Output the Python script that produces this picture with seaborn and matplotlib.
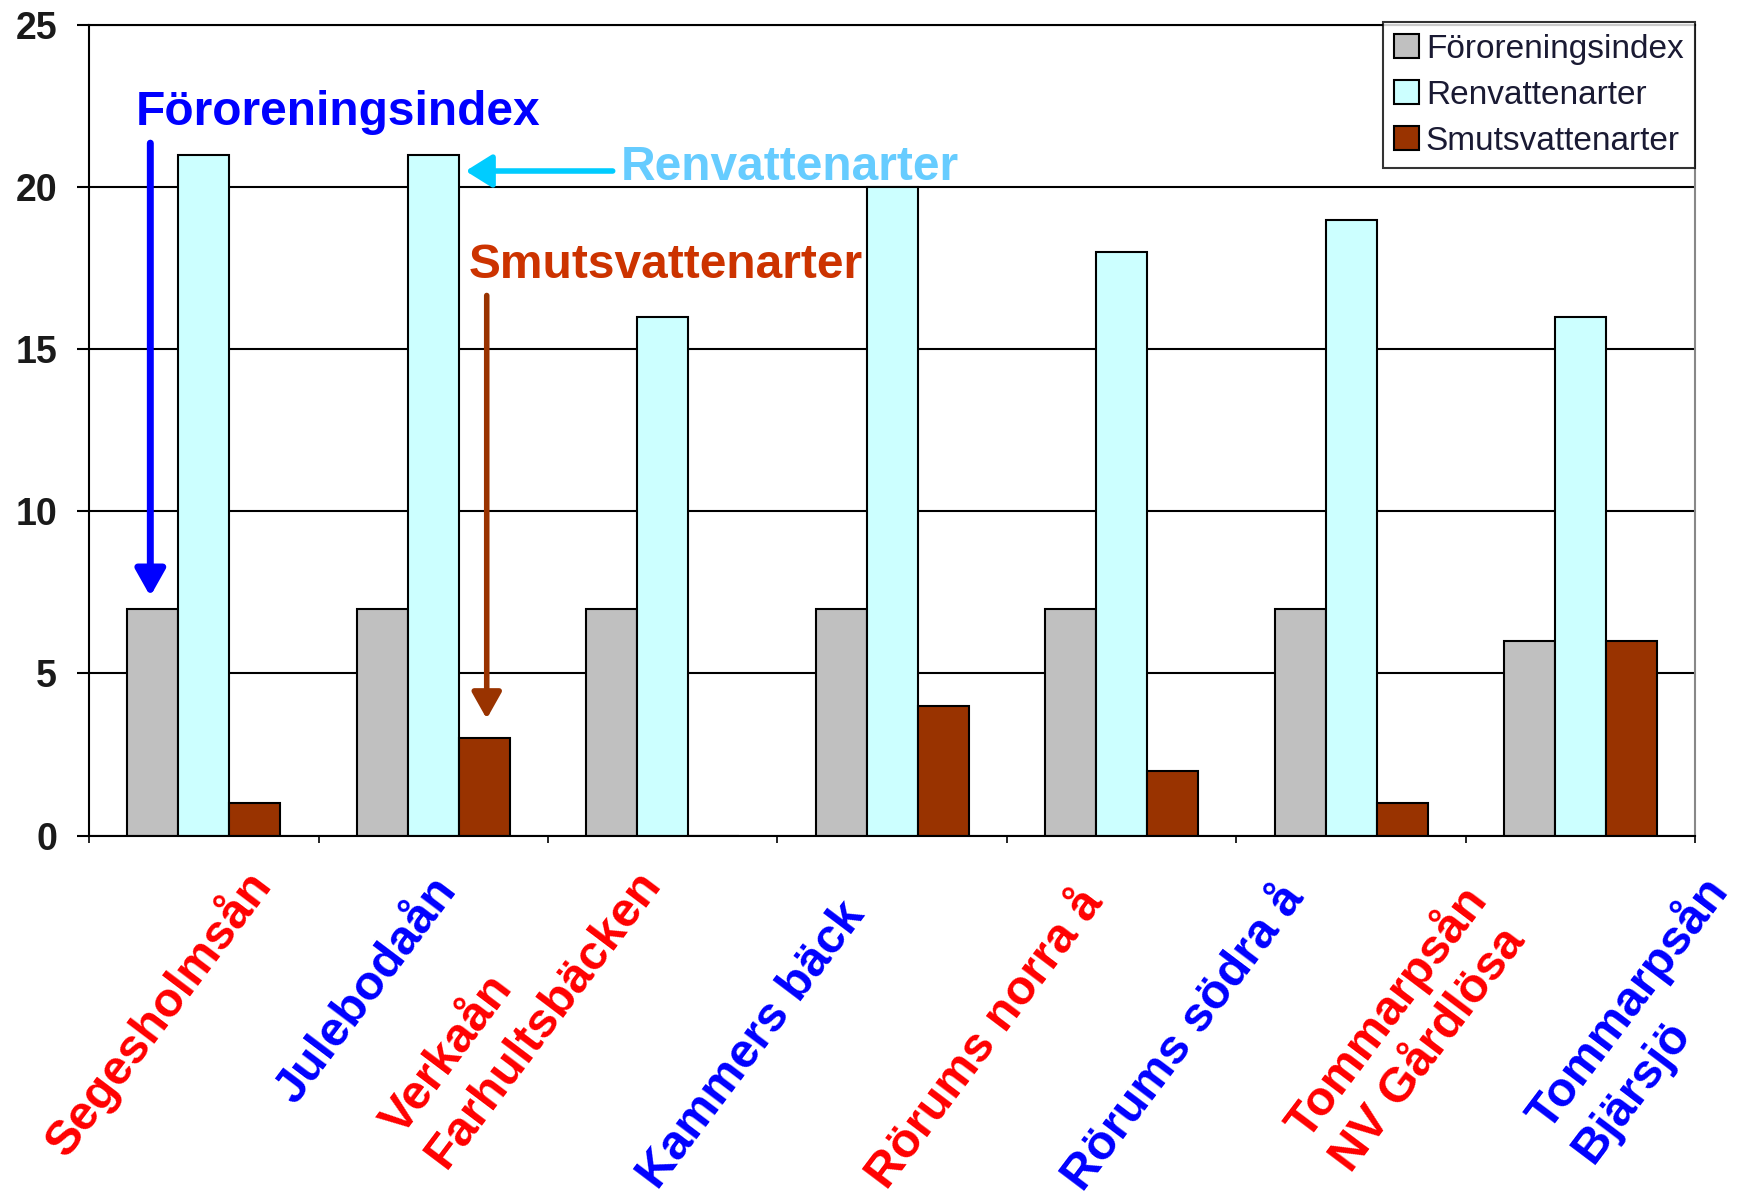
# plot.py
# Bar chart of pollution index and indicator species per stream

import pandas as pd
import seaborn as sns
import numpy as np
import matplotlib.pyplot as plt
from matplotlib.transforms import offset_copy


# STEP 1: Data.

# The seven bar groups (stations in the order they are drawn)
stations = ["Station 1", "Station 2", "Station 3", "Station 4",
            "Station 5", "Station 6", "Station 7"]

# Series names (legend)
series = ["Föroreningsindex", "Renvattenarter", "Smutsvattenarter"]

# Values per series
fororeningsindex = [7, 7, 7, 7, 7, 7, 6]
renvattenarter = [21, 21, 16, 20, 18, 19, 16]
smutsvattenarter = [1, 3, 0, 4, 2, 1, 6]

# Stream names written under the chart, and their colours
stream_labels = ["Segesholmsån", "Julebodaån", "Verkaån\nFarhultsbäcken", "Kammers bäck",
                 "Rörums norra å", "Rörums södra å", "Tommarpsån\nNV Gårdlösa", "Tommarpsån\nBjärsjö"]
stream_colors = ["red", "blue", "red", "blue", "red", "blue", "red", "blue"]

# Y axis ticks
y_ticks = [0, 5, 10, 15, 20, 25]


# STEP 2: Build a long table for seaborn.
df = pd.DataFrame({
    "station": stations * 3,
    "serie": [series[0]] * 7 + [series[1]] * 7 + [series[2]] * 7,
    "value": fororeningsindex + renvattenarter + smutsvattenarter,
})

# Excel classic colours
palette = {"Föroreningsindex": "#C0C0C0", "Renvattenarter": "#CCFFFF", "Smutsvattenarter": "#993300"}


# STEP 3: Plot.
sns.set_style("white")
plt.rcParams['font.family'] = ['Liberation Sans', 'DejaVu Sans']

fig = plt.figure(figsize=(17.46, 11.97), dpi=100)
ax = fig.add_axes([0.051, 0.302, 0.920, 0.677])

sns.barplot(data=df, x="station", y="value", hue="serie", palette=palette,
            width=0.667, edgecolor="black", linewidth=1.5, saturation=1, ax=ax)

# Axis limits and grid
ax.set_xlim(-0.5, 6.5)
ax.set_ylim(0, 25)
ax.set_yticks(y_ticks)
ax.set_yticklabels([str(t) for t in y_ticks], fontsize=27, fontweight='bold', color='#1a1a1a')
ax.yaxis.grid(True, color='black', linewidth=1.5)
ax.set_axisbelow(True)
ax.set_xlabel('')
ax.set_ylabel('')

# Ticks: y outside, x only between groups (Excel style)
ax.tick_params(axis='y', direction='out', length=9, width=1.5, color='black', pad=14, left=True)
ax.set_xticks([])
ax.set_xticks(np.arange(-0.5, 7, 1), minor=True)
ax.tick_params(axis='x', which='minor', direction='out', length=5, width=1.2, color='black', bottom=True)

# Spines
for side in ['left', 'bottom', 'top']:
    ax.spines[side].set_color('black')
    ax.spines[side].set_linewidth(1.5)
ax.spines['right'].set_color('#888888')
ax.spines['right'].set_linewidth(1.5)

# Legend
leg = ax.legend(loc='upper right', bbox_to_anchor=(1.0, 1.004), fontsize=24, frameon=True,
                fancybox=False, edgecolor='black', handlelength=0.75, handleheight=0.75,
                handletextpad=0.2, borderpad=0.35, labelspacing=0.45, borderaxespad=0)
leg.get_frame().set_linewidth(1.5)
for t in leg.get_texts():
    t.set_color('#1a1a33')


# STEP 4: Arrows and annotation texts in the chart.
ax.annotate('', xy=(-0.233, 7.38), xytext=(-0.233, 21.36),
            arrowprops=dict(arrowstyle='-|>,head_length=0.8,head_width=0.45', color='#0000FF',
                            lw=5, mutation_scale=20, shrinkA=0, shrinkB=0))
ax.text(-0.296, 22.3, "Föroreningsindex", color='#0000FF', fontsize=34.5, fontweight='bold',
        ha='left', va='center')

ax.annotate('', xy=(1.141, 20.5), xytext=(1.782, 20.5),
            arrowprops=dict(arrowstyle='-|>,head_length=0.8,head_width=0.5', color='#00CCFF',
                            lw=4, mutation_scale=20, shrinkA=0, shrinkB=0))
ax.text(1.816, 20.6, "Renvattenarter", color='#66CCFF', fontsize=34.5, fontweight='bold',
        ha='left', va='center')

ax.annotate('', xy=(1.233, 3.6), xytext=(1.233, 16.66),
            arrowprops=dict(arrowstyle='-|>,head_length=0.8,head_width=0.45', color='#993300',
                            lw=4, mutation_scale=20, shrinkA=0, shrinkB=0))
ax.text(1.155, 17.6, "Smutsvattenarter", color='#CC3300', fontsize=34.5, fontweight='bold',
        ha='left', va='center')


# STEP 5: Rotated stream names below the chart.
# Start of the first line's baseline for every label (figure fraction)
label_x = [0.0383, 0.1690, 0.2302, 0.3768, 0.5080, 0.6203, 0.7486, 0.8871]
label_y = [0.0317, 0.0760, 0.0501, 0.0049, 0.0046, 0.0035, 0.0468, 0.0545]
angle = 53
line_gap = 55  # pixels between the baselines of a two line label
dx = line_gap * np.sin(np.radians(angle))
dy = -line_gap * np.cos(np.radians(angle))
for i in range(len(stream_labels)):
    lines = stream_labels[i].split("\n")
    for j in range(len(lines)):
        trans = offset_copy(fig.transFigure, fig=fig, x=dx * j, y=dy * j, units='dots')
        fig.text(label_x[i], label_y[i], lines[j], color=stream_colors[i], transform=trans,
                 fontsize=35, fontweight='bold', rotation=angle, rotation_mode='anchor',
                 ha='left', va='baseline')

# Save the plot to a file
plt.savefig('out.png', dpi=100)
